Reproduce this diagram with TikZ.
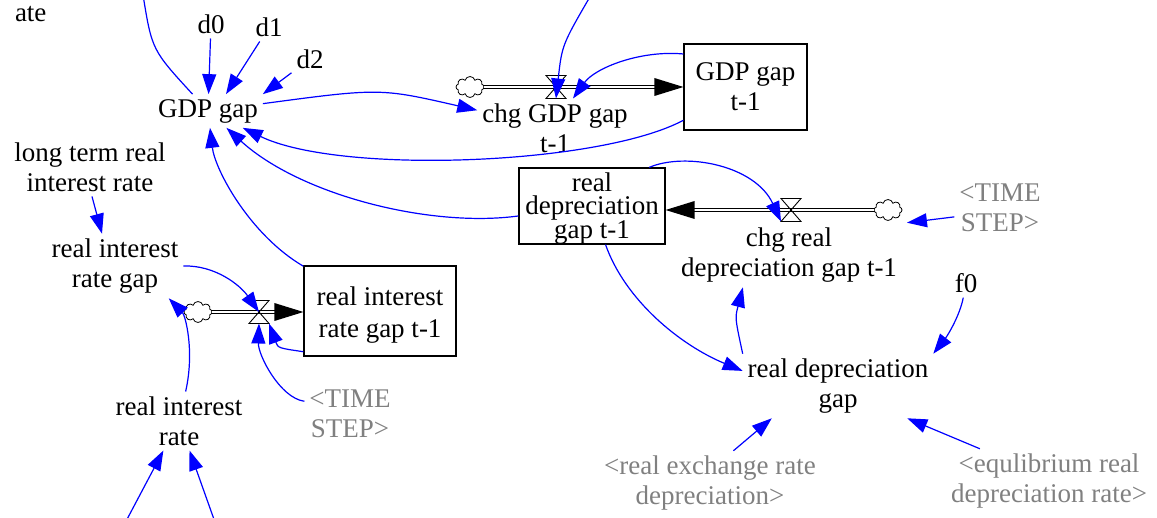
\documentclass[tikz,border=0pt]{standalone}
\usepackage{fontspec}
\setmainfont{Liberation Serif}
\usetikzlibrary{arrows.meta,shapes.symbols,calc}
\definecolor{lk}{RGB}{0,0,255}
\definecolor{gr}{RGB}{128,128,128}
\begin{document}
\begin{tikzpicture}[x=1pt,y=-1pt,
 every node/.style={font=\fontsize{27}{30}\selectfont},
 var/.style={align=center, inner sep=2pt, outer sep=3pt},
 shadowvar/.style={var, text=gr},
 stockbox/.style={draw, line width=1.2pt, fill=white, inner sep=0pt},
 stocktext/.style={align=center, inner sep=0pt},
 valve/.style={minimum width=20pt, minimum height=23pt, inner sep=0pt, outer sep=0pt},
 cloudy/.style={cloud, cloud puffs=8, aspect=1.3, draw, line width=0.8pt, fill=white, inner sep=0pt, minimum width=28pt, minimum height=21pt},
 link/.style={draw=lk, line width=1.2pt, -{Triangle[length=20pt,width=14pt]}},
 pipe/.style={line width=1.1pt, double=white, double distance=2.6pt, shorten >=28pt},
]
\useasboundingbox (0,0) rectangle (1157,518);
\clip (0,0) rectangle (1157,518);

% variables
\node[var, anchor=base west] (ate) at (10,22) {ate};
\node[var] (d0) at (211,24) {d0};
\node[var] (d1) at (269,27) {d1};
\node[var] (d2) at (310,59) {d2};
\node[var] (gdp) at (208,111) {GDP gap};
\node[var] (ltr) at (90,167) {long term real\\interest rate};
\node[var] (rig) at (115,266) {real interest\\rate gap};
\node[var] (ri) at (179,421) {real interest\\rate};
\node[var] (cgl) at (555,128) {chg GDP gap\\t-1};
\node[var] (crl) at (789,255) {chg real\\depreciation gap t-1};
\node[shadowvar] (ts1) at (350,413.5) {<TIME\\STEP>};
\node[shadowvar] (ts2) at (1000,208) {<TIME\\STEP>};
\node[var] (f0) at (966,283) {f0};
\node[var] (rdg) at (838,386) {real depreciation\\gap};
\node[shadowvar] (rer) at (710,483) {<real exchange rate\\depreciation>};
\node[shadowvar] (eq) at (1049,481) {<equlibrium real\\depreciation rate>};

% stocks
\node[stockbox, minimum width=123pt, minimum height=86pt,
      label={[stocktext]center:{GDP gap\\t-1}}] (gdpt) at (745.5,87) {};
\node[stockbox, minimum width=146pt, minimum height=76pt,
      label={[stocktext, yshift=-2.75pt, font=\fontsize{27}{23}\selectfont]center:{real\\depreciation\\gap t-1}}] (rdgt) at (592,206) {};
\node[stockbox, minimum width=152pt, minimum height=90pt,
      label={[stocktext, yshift=-3.75pt, font=\fontsize{27}{32}\selectfont]center:{real interest\\rate gap t-1}}] (rigt) at (380,311) {};

% valves and clouds
\node[valve] (vgdp) at (556,87) {};
\node[valve] (vrd) at (791,210) {};
\node[valve] (vri) at (259,312) {};
\node[cloudy] (cgdp) at (470,87) {};
\node[cloudy] (crd) at (888,210) {};
\node[cloudy] (cri) at (198,312) {};

% off-picture ends
\coordinate (topA) at (143,-5);
\coordinate (topB) at (591,-5);
\coordinate (botA) at (124,525);
\coordinate (botB) at (216,525);

% pipes
\draw[pipe] (cgdp) -- (gdpt.west |- cgdp);
\fill (gdpt.west |- cgdp) -- ++(-29,-9) -- ++(0,18) -- cycle;
\draw[pipe] (crd) -- (rdgt.east |- crd);
\fill (rdgt.east |- crd) -- ++(29,-9) -- ++(0,18) -- cycle;
\draw[pipe] (cri) -- (rigt.west |- cri);
\fill (rigt.west |- cri) -- ++(-29,-9) -- ++(0,18) -- cycle;
\foreach \v in {vgdp,vrd,vri}
  \draw[line width=0.9pt] (\v.north west) -- (\v.north east) -- (\v.south west) -- (\v.south east) -- cycle;

% links
\draw[link,-] (gdp) .. controls (152,50) .. (topA);
\draw[link] (d0) -- (gdp);
\draw[link] (d1) -- ($(gdp.north)+(18,0)$);
\draw[link] (d2) -- (gdp.north east);
\draw[link] (gdp) .. controls (380,88) .. (cgl);
\draw[link] (gdpt) .. controls (600,165) and (340,175) .. (gdp);
\draw[link] (rdgt) .. controls (430,228) and (300,195) .. (gdp);
\draw[link] (rigt) .. controls (250,235) and (215,170) .. (gdp);
\draw[link] (topB) .. controls (562,45) .. (vgdp.south);
\draw[link] (gdpt.152) .. controls (640,50) and (595,68) .. ($(vgdp.south east)+(7,0)$);
\draw[link] ($(ltr.south)+(2,0)$) -- ($(rig.north)+(-13,0)$);
\draw[link] (rig.east) .. controls (215,265) and (240,285) .. (vri.center);
\draw[link] (ri) .. controls (195,350) and (185,315) .. (rig.-31);
\draw[link] (rigt.208) .. controls (278,348) .. (vri.south east);
\draw[link] (ts1.165) .. controls (280,398) and (258,355) .. (vri.south);
\draw[link] (botA) -- (ri);
\draw[link] (botB) -- (ri);
\draw[link] (rdgt.34) .. controls (685,152) and (755,165) .. (vrd.south west);
\draw[link] (rdgt) .. controls (625,300) and (680,345) .. (rdg.171);
\draw[link] (rdg.north west) .. controls (735,318) .. (crl.-145);
\draw[link] (f0) .. controls (960,315) and (948,335) .. (rdg.north east);
\draw[link] (rer.54) -- (rdg.-154);
\draw[link] (eq.155) -- (rdg.-25);
\draw[link] (ts2.191) -- ($(crl.north east)+(5,0)$);
\end{tikzpicture}
\end{document}
